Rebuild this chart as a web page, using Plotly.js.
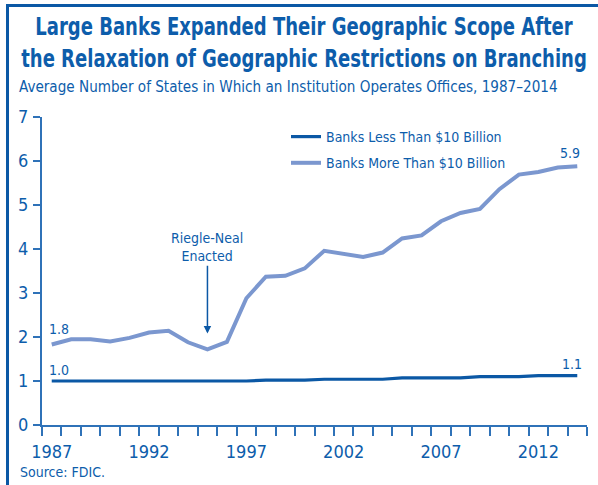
<!DOCTYPE html>
<html>
<head>
<meta charset="utf-8">
<script src="https://cdn.plot.ly/plotly-3.0.1.min.js"></script>
<style>
html,body{margin:0;padding:0;background:#fff;}
#chart{width:598px;height:485px;}
</style>
</head>
<body>
<div id="chart"></div>
<script>
const years = [1987,1988,1989,1990,1991,1992,1993,1994,1995,1996,1997,1998,1999,2000,2001,2002,2003,2004,2005,2006,2007,2008,2009,2010,2011,2012,2013,2014];
const banksLess = [1.00,1.00,1.00,1.00,1.00,1.00,1.00,1.00,1.00,1.00,1.00,1.02,1.02,1.02,1.04,1.04,1.04,1.04,1.07,1.07,1.07,1.07,1.10,1.10,1.10,1.12,1.12,1.12];
const banksMore = [1.83,1.95,1.95,1.90,1.98,2.10,2.14,1.88,1.72,1.89,2.88,3.37,3.39,3.56,3.96,3.90,3.82,3.92,4.24,4.31,4.63,4.82,4.91,5.36,5.69,5.75,5.85,5.88];
const yTicks = [0,1,2,3,4,5,6,7];
const xTickLabels = [1987,1992,1997,2002,2007,2012];
const seriesNames = ["Banks Less Than $10 Billion","Banks More Than $10 Billion"];
const eventYear = 1995;
const eventText = "Riegle-Neal<br>Enacted";
const titleText = "Large Banks Expanded Their Geographic Scope After<br>the Relaxation of Geographic Restrictions on Branching";
const subtitleText = "Average Number of States in Which an Institution Operates Offices, 1987–2014";
const sourceText = "Source: FDIC.";

const FONT = '"DejaVu Sans Condensed","Liberation Sans Narrow","DejaVu Sans",sans-serif';
const BLUE = '#0d5dab';
const DARK = '#0b58a5';
const LIGHT = '#7b97cf';
const AXIS = '#2f72b8';

const W = 598, H = 485;
const M = {l:42, r:11, t:117, b:60};
const PW = W - M.l - M.r, PH = H - M.t - M.b;
const px2x = px => (px - M.l) / PW;
const py2y = py => (H - M.b - py) / PH;

const boundaries = years.map(y => y - 0.5).concat([years[years.length-1] + 0.5]);

const traces = [
  {x: years, y: banksLess, name: seriesNames[0], legendgroup: 'a', type: 'scatter', mode: 'lines',
   line: {color: DARK, width: 3.2}},
  {x: years, y: banksMore, name: seriesNames[1], legendgroup: 'b', type: 'scatter', mode: 'lines',
   line: {color: LIGHT, width: 4}}
];

const last = years.length - 1;
const eventIdx = years.indexOf(eventYear);
const annotations = [
  {x: years[0], y: banksMore[0], text: banksMore[0].toFixed(1), showarrow: false, xanchor: 'left', xshift: -5, yshift: 15, font: {family: FONT, size: 14, color: BLUE}},
  {x: years[0], y: banksLess[0], text: banksLess[0].toFixed(1), showarrow: false, xanchor: 'left', xshift: -5, yshift: 11, font: {family: FONT, size: 14, color: BLUE}},
  {x: years[last], y: banksMore[last], text: banksMore[last].toFixed(1), showarrow: false, xanchor: 'center', xshift: -7, yshift: 13, font: {family: FONT, size: 14, color: BLUE}},
  {x: years[last], y: banksLess[last], text: banksLess[last].toFixed(1), showarrow: false, xanchor: 'center', xshift: -5, yshift: 12, font: {family: FONT, size: 14, color: BLUE}},
  {x: eventYear, y: banksMore[eventIdx] + 0.36, ax: eventYear, ay: 4.04, axref: 'x', ayref: 'y',
   text: eventText, showarrow: true, arrowhead: 2, arrowsize: 1, arrowwidth: 1.5, arrowcolor: DARK,
   font: {family: FONT, size: 14, color: BLUE}, align: 'center'},
  {xref: 'paper', yref: 'paper', x: px2x(17), y: py2y(87), xanchor: 'left', yanchor: 'middle',
   text: subtitleText, showarrow: false, font: {family: FONT, size: 15.1, color: BLUE}},
  {xref: 'paper', yref: 'paper', x: px2x(18), y: py2y(472), xanchor: 'left', yanchor: 'middle',
   text: sourceText, showarrow: false, font: {family: FONT, size: 14, color: BLUE}}
];

const shapes = [
  {type: 'line', xref: 'paper', yref: 'paper', x0: px2x(7.5), x1: px2x(7.5), y0: py2y(4), y1: py2y(H+2), line: {color: DARK, width: 3}},
  {type: 'line', xref: 'paper', yref: 'paper', x0: px2x(6), x1: px2x(W+2), y0: py2y(5.5), y1: py2y(5.5), line: {color: DARK, width: 3}}
];

const TITLE_CX = 304;
const layout = {
  width: W, height: H,
  margin: M,
  paper_bgcolor: '#fff', plot_bgcolor: '#fff',
  font: {family: FONT, color: BLUE},
  showlegend: true,
  title: {text: titleText, x: TITLE_CX/W, xref: 'container', xanchor: 'center', y: 1 - 35/H, yref: 'container', yanchor: 'top',
          font: {family: FONT, size: 25, color: BLUE, weight: 'bold'}},
  legend: {x: px2x(286), y: py2y(121), xanchor: 'left', yanchor: 'top', bgcolor: 'rgba(0,0,0,0)',
           font: {family: FONT, size: 14, color: BLUE}, tracegroupgap: 5, itemwidth: 30},
  xaxis: {range: [boundaries[0], boundaries[boundaries.length-1]], tickmode: 'array', tickvals: xTickLabels,
          ticktext: xTickLabels.map(String), ticks: 'outside', ticklen: 9, tickcolor: 'rgba(0,0,0,0)',
          tickfont: {family: FONT, size: 18, color: BLUE},
          showline: true, linecolor: AXIS, linewidth: 2, showgrid: false, zeroline: false, fixedrange: true,
          minor: {tickmode: 'array', tickvals: boundaries, ticks: 'outside', ticklen: 9, tickwidth: 2, tickcolor: AXIS, showgrid: false}},
  yaxis: {range: [0, 7], tickmode: 'array', tickvals: yTicks, ticks: 'outside', ticklen: 7, tickwidth: 1.5, tickcolor: AXIS,
          tickfont: {family: FONT, size: 18, color: BLUE}, ticklabelstandoff: 1,
          showline: true, linecolor: AXIS, linewidth: 2, showgrid: false, zeroline: false, fixedrange: true},
  annotations: annotations,
  shapes: shapes
};

Plotly.newPlot('chart', traces, layout, {displayModeBar: false, staticPlot: true}).then(gd => {
  const t = gd.querySelector('.gtitle');
  if (!t) return;
  const g = t.parentNode;
  const bb = t.getBBox();
  const targetWidth = 566;
  if (bb.width > 0) {
    const s = targetWidth / bb.width;
    g.setAttribute('transform', 'translate(' + TITLE_CX + ',0) scale(' + s + ',1) translate(' + (-TITLE_CX) + ',0)');
  }
});
</script>
</body>
</html>
